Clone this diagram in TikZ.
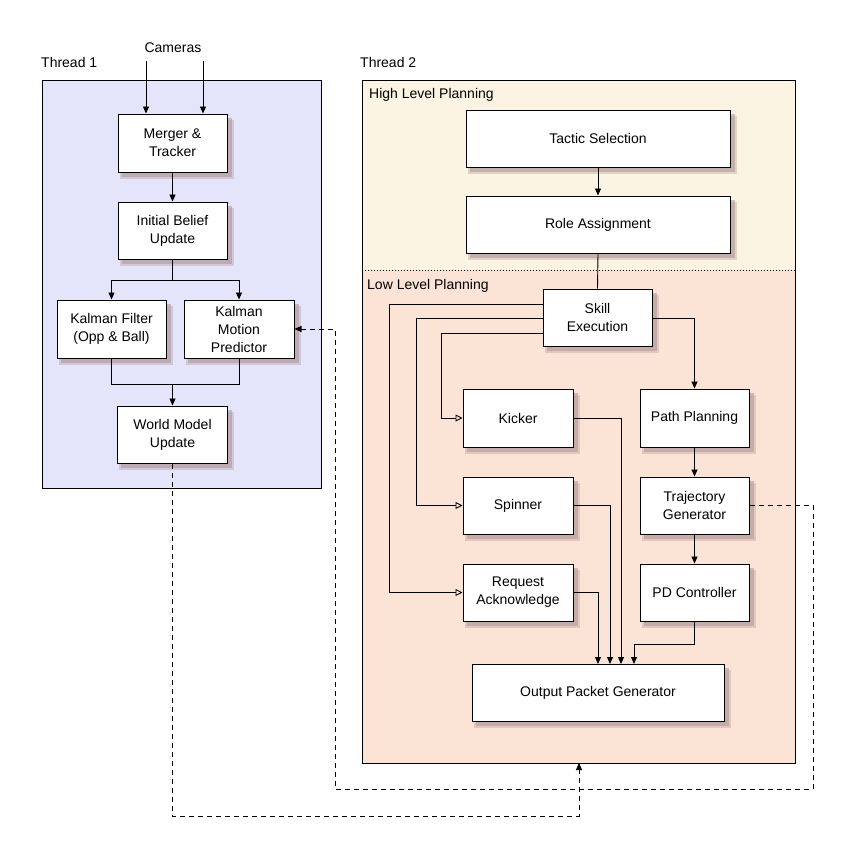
\documentclass[tikz,border=0pt]{standalone}
\usepackage{fontspec}
\setmainfont{Liberation Sans}
\usetikzlibrary{arrows.meta}
\definecolor{tblue}{RGB}{228,228,250}
\definecolor{thigh}{RGB}{252,244,226}
\definecolor{tlow}{RGB}{251,228,214}
\definecolor{shad}{RGB}{175,150,150}
\pgfdeclarelayer{frames}
\pgfdeclarelayer{shadows}
\pgfsetlayers{frames,shadows,main}
\begin{document}
\begin{tikzpicture}[x=1pt,y=-1pt,font=\fontsize{14}{18}\selectfont,
 box/.style={draw,line width=1pt,fill=white,align=center,inner sep=0pt},
 ar/.style={-{Triangle[length=7pt,width=6pt]},line width=0.9pt},
 oa/.style={-{Triangle[open,length=7pt,width=7pt]},line width=0.9pt},
 da/.style={-{Triangle[length=7pt,width=6pt]},line width=0.9pt,dash pattern=on 5pt off 4pt},
 lbl/.style={anchor=west,inner sep=0pt}]
\useasboundingbox (0,0) rectangle (849,849);
% frames
\begin{pgfonlayer}{frames}
\fill[tblue] (42,80) rectangle (321,488);
\draw[line width=0.9pt] (42,80) rectangle (321,488);
\fill[thigh] (362,80) rectangle (795,270);
\fill[tlow] (362,270) rectangle (795,763);
\draw[line width=0.9pt] (362,80) rectangle (795,763);
\draw[dotted,line width=1pt] (362,270) -- (795,270);
\end{pgfonlayer}
\node[lbl] (t1) at (41,62) {Thread 1};
\node[lbl] (t2) at (360,62) {Thread 2};
\node[lbl] (hl) at (369,95) {High Level Planning};
\node[lbl] (ll) at (367,286) {Low Level Planning};
\node (cam) at (173,48) {Cameras};
% thread 1 boxes
\node[box,minimum width=109pt,minimum height=58pt] (mt) at (172.5,143) {Merger \&\\Tracker};
\node[box,minimum width=109pt,minimum height=57pt] (ib) at (172.5,230.5) {Initial Belief\\Update};
\node[box,minimum width=109pt,minimum height=58pt] (kf) at (111.5,329) {Kalman Filter\\(Opp \& Ball)};
\node[box,minimum width=110pt,minimum height=58pt] (km) at (239,329) {Kalman\\Motion\\Predictor};
\node[box,minimum width=110pt,minimum height=57pt] (wm) at (172.5,434.5) {World Model\\Update};
\coordinate (c1) at (146,61);
\coordinate (c2) at (203,61);
\draw[ar] (c1) -- (c1 |- mt.north);
\draw[ar] (c2) -- (c2 |- mt.north);
\draw[ar] (mt) -- (ib);
\draw[line width=0.9pt] (ib.south) -- (172.5,280) coordinate (sp);
\draw[ar] (sp) -| (kf.north);
\draw[ar] (sp) -| (km.north);
\draw[line width=0.9pt] (kf.south) |- (172.5,384) coordinate (jn);
\draw[line width=0.9pt] (km.south) |- (jn);
\draw[ar] (jn) -- (wm.north);
% thread 2 boxes
\node[box,minimum width=264pt,minimum height=57pt] (ts) at (598,138.5) {Tactic Selection};
\node[box,minimum width=264pt,minimum height=57pt] (ra) at (598,224.5) {Role Assignment};
\node[box,minimum width=109pt,minimum height=57pt] (se) at (597.5,317.5) {Skill\\Execution};
\node[box,minimum width=110pt,minimum height=58pt] (ki) at (518,418) {Kicker};
\node[box,minimum width=109pt,minimum height=58pt] (pp) at (694.5,418) {Path Planning};
\node[box,minimum width=110pt,minimum height=57pt] (sn) at (518,505.5) {Spinner};
\node[box,minimum width=109pt,minimum height=57pt] (tg) at (694.5,505.5) {Trajectory\\Generator};
\node[box,minimum width=110pt,minimum height=57pt] (rq) at (518,592.5) {Request\\Acknowledge};
\node[box,minimum width=109pt,minimum height=57pt] (pd) at (694.5,592.5) {PD Controller};
\node[box,minimum width=252pt,minimum height=57pt] (op) at (598,692.5) {Output Packet Generator};
\begin{pgfonlayer}{shadows}
\foreach \n in {mt,ib,kf,km,wm,ts,ra,se,ki,pp,sn,tg,rq,pd,op}{
  \fill[shad,opacity=0.55] ([shift={(4,4)}]\n.north west) rectangle ([shift={(4,4)}]\n.south east);
  \fill[shad,opacity=0.35] ([shift={(2,6)}]\n.north west) rectangle ([shift={(6,6)}]\n.south east);
}
\end{pgfonlayer}
\draw[ar] (ts) -- (ra);
\draw[line width=0.9pt] (ra.south) -- (se.north);
\draw[ar] (se.east |- 0,318) -| (pp.north);
\draw[oa] (se.west |- 0,304) -| (389,592.5) -- (rq.west);
\draw[oa] (se.west |- 0,318) -| (416,505.5) -- (sn.west);
\draw[oa] (se.west |- 0,333) -| (441,418) -- (ki.west);
\draw[ar] (pp) -- (tg);
\draw[ar] (tg) -- (pd);
\draw[ar] (ki.east) -| (621,664);
\draw[ar] (sn.east) -| (610,664);
\draw[ar] (rq.east) -| (598,664);
\draw[ar] (pd.south) |- (634,644) -- (634,664);
% dashed
\coordinate (fb) at (579,763);
\draw[da] (tg.east) -| (813,789) -| (335,329) -- (km.east);
\draw[da] (wm.south) |- (579,816) -- (fb);
\end{tikzpicture}
\end{document}
